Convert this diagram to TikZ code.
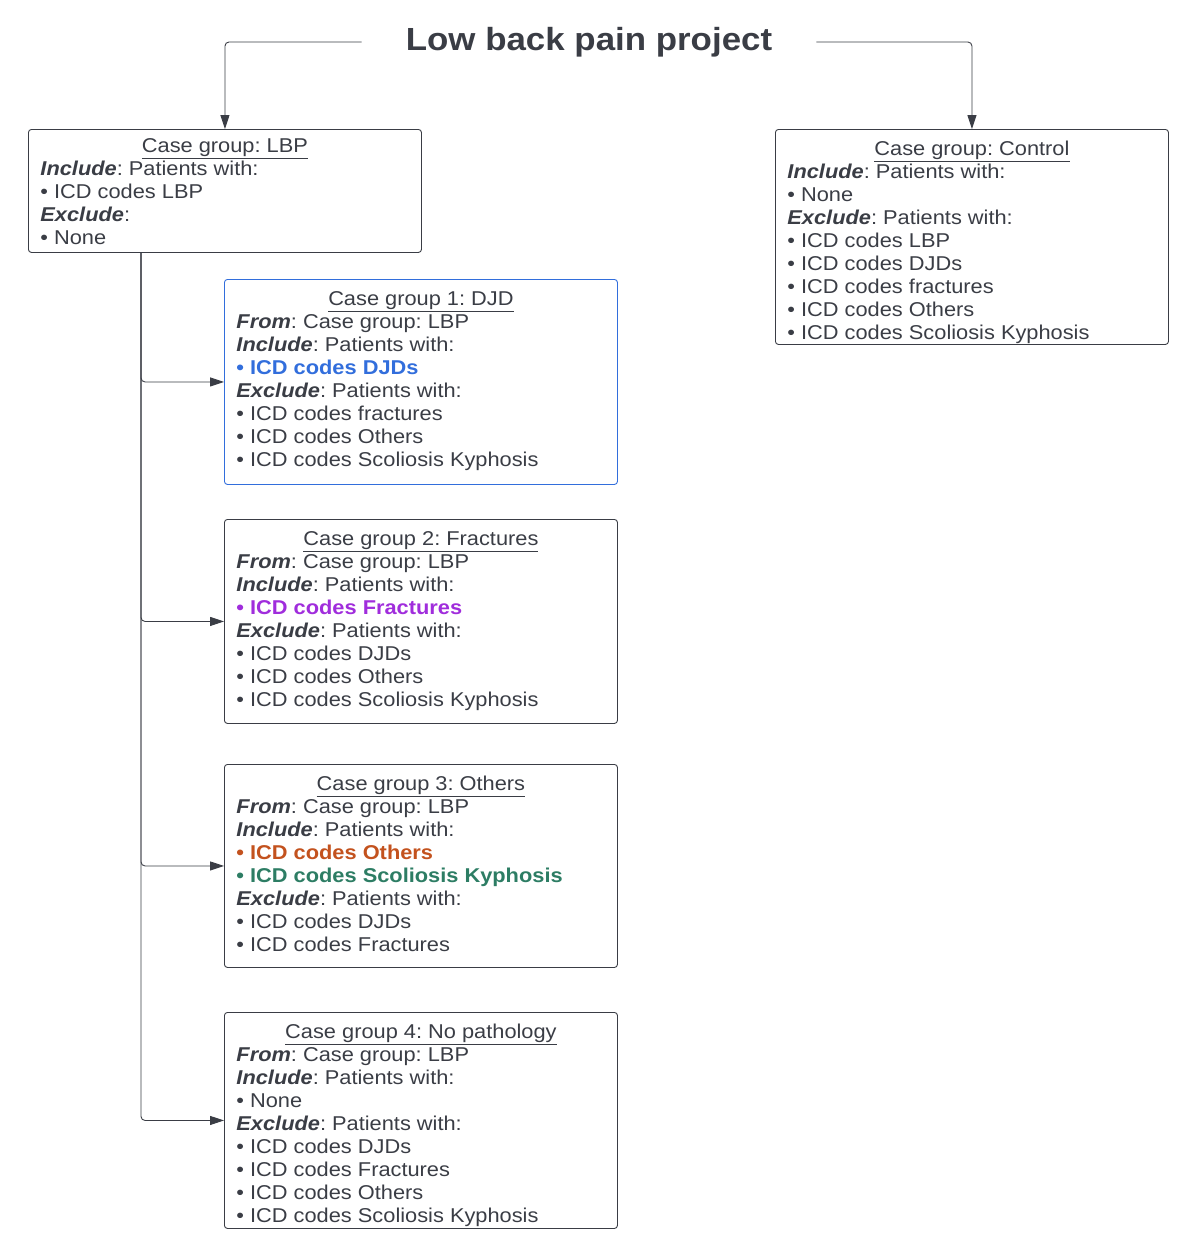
\documentclass[tikz,border=0pt]{standalone}
\usepackage{fontspec}
\setmainfont{Liberation Sans}[FakeStretch=1.09]
\usetikzlibrary{arrows.meta}
\frenchspacing
\definecolor{ink}{RGB}{58,61,69}
\definecolor{djdblue}{RGB}{50,110,220}
\definecolor{fracpurple}{RGB}{160,45,220}
\definecolor{othorange}{RGB}{195,82,30}
\definecolor{scolgreen}{RGB}{45,125,100}
\newcommand{\grouptitle}[1]{\strut\makebox[369pt]{\underline{#1}}}
\newcommand{\groupbody}[2]{\parbox[t][#1][t]{369pt}{\raggedright #2}}
\newcommand{\lbl}[1]{\textbf{\textit{#1}}}

\begin{document}
\begin{tikzpicture}[x=1pt,y=-1pt,
  groupbox/.style={draw=ink, rounded corners=3pt, line width=0.9pt, anchor=north west,
    inner xsep=12pt, inner ysep=10pt, font=\fontsize{20}{23}\selectfont, text=ink},
  link/.style={draw=ink, line width=0.9pt, rounded corners=4pt,
    -{Triangle[length=14pt,width=9pt]}}]
\useasboundingbox (0,0) rectangle (1194,1248);

\node[font=\bfseries\fontsize{32}{36}\selectfont, text=ink, text height=24pt, text depth=8pt,
  inner xsep=44pt, inner ysep=0pt] (title) at (589,42) {Low back pain project};

\node[groupbox, inner ysep=7pt] (lbp) at (28,129)
  {\groupbody{109pt}{\grouptitle{Case group: LBP}\\
   \lbl{Include}: Patients with:\\
   • ICD codes LBP\\
   \lbl{Exclude}:\\
   • None}};

\node[groupbox] (control) at (775,129)
  {\groupbody{195pt}{\grouptitle{Case group: Control}\\
   \lbl{Include}: Patients with:\\
   • None\\
   \lbl{Exclude}: Patients with:\\
   • ICD codes LBP\\
   • ICD codes DJDs\\
   • ICD codes fractures\\
   • ICD codes Others\\
   • ICD codes Scoliosis Kyphosis}};

\node[groupbox, draw=djdblue] (g1) at (224,279)
  {\groupbody{185pt}{\grouptitle{Case group 1: DJD}\\
   \lbl{From}: Case group: LBP\\
   \lbl{Include}: Patients with:\\
   \textcolor{djdblue}{\textbf{• ICD codes DJDs}}\\
   \lbl{Exclude}: Patients with:\\
   • ICD codes fractures\\
   • ICD codes Others\\
   • ICD codes Scoliosis Kyphosis}};

\node[groupbox] (g2) at (224,519)
  {\groupbody{184pt}{\grouptitle{Case group 2: Fractures}\\
   \lbl{From}: Case group: LBP\\
   \lbl{Include}: Patients with:\\
   \textcolor{fracpurple}{\textbf{• ICD codes Fractures}}\\
   \lbl{Exclude}: Patients with:\\
   • ICD codes DJDs\\
   • ICD codes Others\\
   • ICD codes Scoliosis Kyphosis}};

\node[groupbox] (g3) at (224,764)
  {\groupbody{183pt}{\grouptitle{Case group 3: Others}\\
   \lbl{From}: Case group: LBP\\
   \lbl{Include}: Patients with:\\
   \textcolor{othorange}{\textbf{• ICD codes Others}}\\
   \textcolor{scolgreen}{\textbf{• ICD codes Scoliosis Kyphosis}}\\
   \lbl{Exclude}: Patients with:\\
   • ICD codes DJDs\\
   • ICD codes Fractures}};

\node[groupbox] (g4) at (224,1012)
  {\groupbody{196pt}{\grouptitle{Case group 4: No pathology}\\
   \lbl{From}: Case group: LBP\\
   \lbl{Include}: Patients with:\\
   • None\\
   \lbl{Exclude}: Patients with:\\
   • ICD codes DJDs\\
   • ICD codes Fractures\\
   • ICD codes Others\\
   • ICD codes Scoliosis Kyphosis}};

\draw[link] (title.west) -| (lbp.north);
\draw[link] (title.east) -| (control.north);

\coordinate (trunk) at ([xshift=113pt]lbp.south west);
\foreach \g in {g1,g2,g3,g4}
  \draw[link] (trunk) |- (\g.west);

\end{tikzpicture}
\end{document}
